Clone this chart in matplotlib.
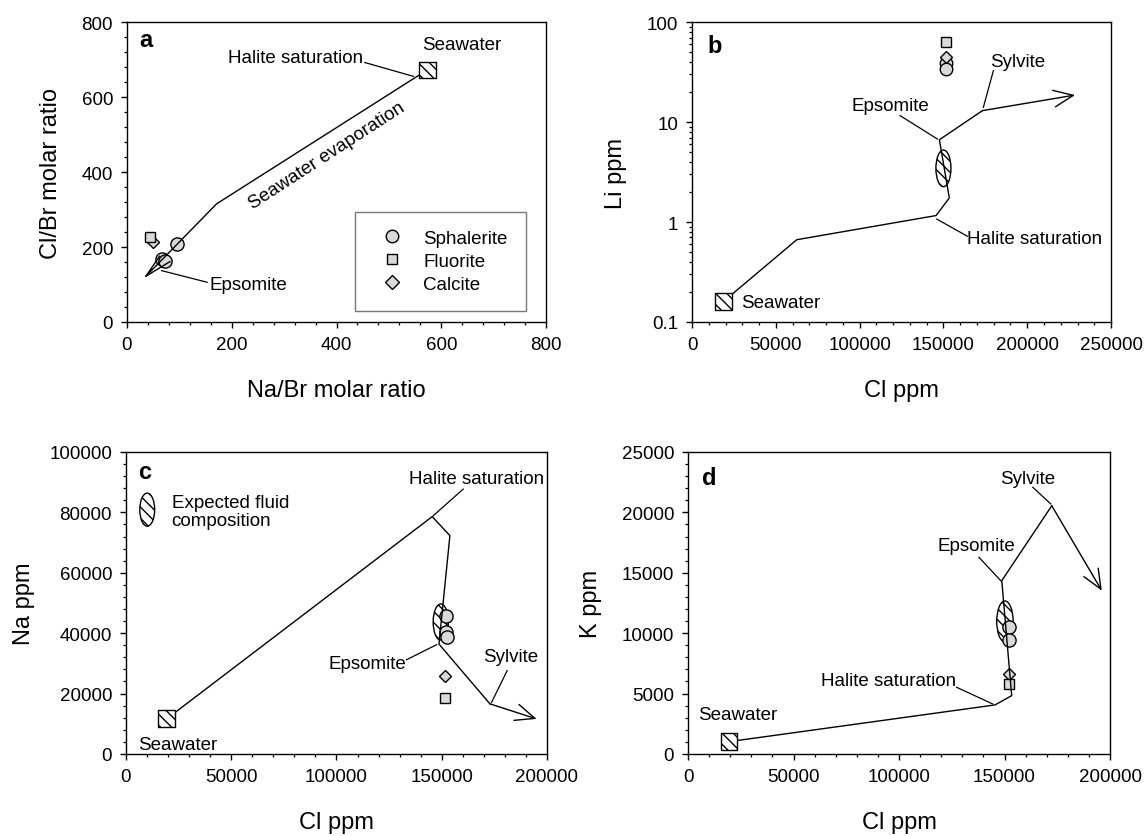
import matplotlib
matplotlib.use("Agg")
import matplotlib.pyplot as plt
from matplotlib.path import Path
from matplotlib.transforms import Affine2D
from matplotlib.ticker import MultipleLocator, FixedLocator, FixedFormatter, LogLocator, NullFormatter
from matplotlib.lines import Line2D

plt.rcParams['font.family'] = ['Liberation Sans', 'DejaVu Sans']
plt.rcParams['hatch.linewidth'] = 1.0
plt.rcParams['hatch.color'] = 'black'

# ---------------- data ----------------
# panel a : Na/Br vs Cl/Br molar ratio
a_sph_x = [95, 67, 72]
a_sph_y = [208, 168, 163]
a_flu_x = [43]
a_flu_y = [228]
a_cal_x = [50]
a_cal_y = [214]
a_sea_x = [573]
a_sea_y = [672]
a_path_x = [573, 171, 36, 62]
a_path_y = [672, 315, 122, 175]
a_wedge_x = [36, 82]
a_wedge_y = [122, 161]

# panel b : Cl ppm vs Li ppm (log)
b_sph_x = [151400, 151400]
b_sph_y = [38.5, 34]
b_flu_x = [151400]
b_flu_y = [62.7]
b_cal_x = [151400]
b_cal_y = [44.5]
b_sea_x = [18700]
b_sea_y = [0.16]
b_path_x = [18700, 62500, 145600, 153500, 147600, 173300]
b_path_y = [0.16, 0.665, 1.16, 1.74, 6.65, 13.0]
b_arrow_end = (228500, 18.6)
b_ell_x = [150000]
b_ell_y = [3.44]

# panel c : Cl ppm vs Na ppm
c_sph_x = [152000, 152000, 152500]
c_sph_y = [45800, 40300, 38600]
c_flu_x = [151500]
c_flu_y = [18400]
c_cal_x = [151500]
c_cal_y = [25900]
c_sea_x = [19300]
c_sea_y = [11600]
c_path_x = [19300, 145500, 153900, 148700, 172900]
c_path_y = [11600, 78600, 72300, 36400, 16600]
c_arrow_end = (195100, 11600)
c_ell_x = [149550]
c_ell_y = [43700]
c_leg_ell_x = [10100]
c_leg_ell_y = [80900]

# panel d : Cl ppm vs K ppm
d_sph_x = [152300, 152300]
d_sph_y = [10490, 9460]
d_flu_x = [152300]
d_flu_y = [5800]
d_cal_x = [152300]
d_cal_y = [6620]
d_sea_x = [19430]
d_sea_y = [1020]
d_path_x = [19430, 145500, 153400, 148700, 172400]
d_path_y = [1020, 4060, 4830, 14350, 20550]
d_arrow_end = (196100, 13520)
d_ell_x = [150200]
d_ell_y = [10970]

# ---------------- style ----------------
GRAY = '#d9d9d9'
FS = 13.5
LW = 1.0
HATCH = '\\\\\\'

fig = plt.figure(figsize=(11.44, 8.37), dpi=100)
ax_a = fig.add_axes([0.1110, 0.6141, 0.3663, 0.3584])
ax_b = fig.add_axes([0.6049, 0.6141, 0.3663, 0.3584])
ax_c = fig.add_axes([0.1101, 0.0980, 0.3680, 0.3608])
ax_d = fig.add_axes([0.6014, 0.0980, 0.3689, 0.3608])


def ell_marker(ratio):
    return Path.unit_circle().transformed(Affine2D().scale(ratio, 1.0))


def style(ax):
    for s in ax.spines.values():
        s.set_linewidth(1.0)
        s.set_color('black')
    ax.tick_params(which='major', direction='out', length=4, width=1.0,
                   labelsize=FS, pad=6, top=False, right=False)
    ax.tick_params(which='minor', direction='out', length=2.2, width=0.9,
                   top=False, right=False)


def samples(ax, sx, sy, fx, fy, cx, cy, sph_ms=9.5):
    ax.plot(sx, sy, 'o', ms=sph_ms, mfc=GRAY, mec='black', mew=1.0, ls='none', zorder=2)
    ax.plot(cx, cy, 'D', ms=6.6, mfc=GRAY, mec='black', mew=1.0, ls='none', zorder=2)
    ax.plot(fx, fy, 's', ms=7.2, mfc=GRAY, mec='black', mew=1.0, ls='none', zorder=2)


def seawater(ax, x, y):
    ax.scatter(x, y, marker='s', s=12.2 ** 2, facecolor='white', edgecolor='black',
               linewidths=1.0, hatch=HATCH, zorder=4)


def ellipse(ax, x, y, h_pt, ratio):
    ax.scatter(x, y, marker=ell_marker(ratio), s=h_pt ** 2, facecolor='white',
               edgecolor='black', linewidths=1.0, hatch=HATCH, zorder=1)


def arrow(ax, start, end):
    ax.annotate('', xy=end, xytext=start,
                arrowprops=dict(arrowstyle='->,head_length=0.7,head_width=0.3',
                                lw=LW, color='black', shrinkA=0, shrinkB=0,
                                mutation_scale=20), zorder=3)


def label(ax, text, x, y, ha='left', va='center', **kw):
    ax.text(x, y, text, ha=ha, va=va, fontsize=FS, **kw)


def leader(ax, x0, y0, x1, y1):
    ax.plot([x0, x1], [y0, y1], color='black', lw=0.9, zorder=3)


# ---------------- panel a ----------------
ax = ax_a
style(ax)
ax.set_xlim(0, 800)
ax.set_ylim(0, 800)
ax.xaxis.set_major_locator(MultipleLocator(200))
ax.xaxis.set_minor_locator(MultipleLocator(40))
ax.yaxis.set_major_locator(MultipleLocator(200))
ax.yaxis.set_minor_locator(MultipleLocator(40))
samples(ax, a_sph_x, a_sph_y, a_flu_x, a_flu_y, a_cal_x, a_cal_y)
ax.plot(a_path_x, a_path_y, color='black', lw=LW, zorder=3)
ax.plot(a_wedge_x, a_wedge_y, color='black', lw=LW, zorder=3)
seawater(ax, a_sea_x, a_sea_y)
ax.text(0.045, 0.943, 'a', transform=ax.transAxes, fontsize=17, fontweight='bold',
        ha='center', va='center')
label(ax, 'Seawater', 564, 739)
label(ax, 'Halite saturation', 451, 706, ha='right')
leader(ax, 454, 692, 547, 655)
label(ax, 'Seawater evaporation', 381, 446, ha='center', rotation=33, rotation_mode='anchor')
label(ax, 'Epsomite', 157, 100)
leader(ax, 66, 137, 153, 106)
ax.set_xlabel('Na/Br molar ratio', fontsize=17, labelpad=19)
ax.set_ylabel('Cl/Br molar ratio', fontsize=17, labelpad=14)
handles = [
    Line2D([], [], marker='o', ms=9, mfc=GRAY, mec='black', ls='none', label='Sphalerite'),
    Line2D([], [], marker='s', ms=7.5, mfc=GRAY, mec='black', ls='none', label='Fluorite'),
    Line2D([], [], marker='D', ms=6.8, mfc=GRAY, mec='black', ls='none', label='Calcite'),
]
leg = ax.legend(handles=handles, loc='lower left', bbox_to_anchor=(0.544, 0.038),
                borderaxespad=0, fontsize=FS, frameon=True, fancybox=False,
                borderpad=0.95, handlelength=2.0, handletextpad=0.7, labelspacing=0.32)
leg.get_frame().set_edgecolor('#555555')
leg.get_frame().set_linewidth(1.0)

# ---------------- panel b ----------------
ax = ax_b
style(ax)
ax.set_xlim(0, 250000)
ax.set_yscale('log')
ax.set_ylim(0.1, 100)
ax.xaxis.set_major_locator(MultipleLocator(50000))
ax.xaxis.set_minor_locator(MultipleLocator(10000))
ax.yaxis.set_major_locator(FixedLocator([0.1, 1, 10, 100]))
ax.yaxis.set_major_formatter(FixedFormatter(['0.1', '1', '10', '100']))
ax.yaxis.set_minor_locator(LogLocator(base=10, subs=range(2, 10)))
ax.yaxis.set_minor_formatter(NullFormatter())
ellipse(ax, b_ell_x, b_ell_y, 26.4, 0.41)
samples(ax, b_sph_x, b_sph_y, b_flu_x, b_flu_y, b_cal_x, b_cal_y, sph_ms=9.0)
ax.plot(b_path_x, b_path_y, color='black', lw=LW, zorder=3)
arrow(ax, (b_path_x[-1], b_path_y[-1]), b_arrow_end)
seawater(ax, b_sea_x, b_sea_y)
ax.text(0.055, 0.921, 'b', transform=ax.transAxes, fontsize=17, fontweight='bold',
        ha='center', va='center')
label(ax, 'Seawater', 29200, 0.155)
label(ax, 'Sylvite', 177800, 40.1)
leader(ax, 179800, 32.6, 173800, 14.0)
label(ax, 'Epsomite', 94900, 14.6)
leader(ax, 124100, 11.6, 146400, 6.76)
label(ax, 'Halite saturation', 164100, 0.687)
leader(ax, 146000, 1.07, 164300, 0.72)
ax.set_xlabel('Cl ppm', fontsize=17, labelpad=19)
ax.set_ylabel('Li ppm', fontsize=17, labelpad=14)

# ---------------- panel c ----------------
ax = ax_c
style(ax)
ax.set_xlim(0, 200000)
ax.set_ylim(0, 100000)
ax.xaxis.set_major_locator(MultipleLocator(50000))
ax.xaxis.set_minor_locator(MultipleLocator(10000))
ax.yaxis.set_major_locator(MultipleLocator(20000))
ax.yaxis.set_minor_locator(MultipleLocator(4000))
ellipse(ax, c_ell_x, c_ell_y, 26.0, 0.42)
ellipse(ax, c_leg_ell_x, c_leg_ell_y, 23.8, 0.45)
samples(ax, c_sph_x, c_sph_y, c_flu_x, c_flu_y, c_cal_x, c_cal_y)
ax.plot(c_path_x, c_path_y, color='black', lw=LW, zorder=3)
arrow(ax, (c_path_x[-1], c_path_y[-1]), c_arrow_end)
seawater(ax, c_sea_x, c_sea_y)
ax.text(0.045, 0.934, 'c', transform=ax.transAxes, fontsize=17, fontweight='bold',
        ha='center', va='center')
label(ax, 'Seawater', 5700, 3300)
label(ax, 'Halite saturation', 134400, 91300)
leader(ax, 160200, 87700, 146000, 78900)
label(ax, 'Expected fluid\ncomposition', 21700, 80300, linespacing=1.1)
label(ax, 'Epsomite', 133000, 29800, ha='right')
leader(ax, 133300, 31200, 147600, 36200)
label(ax, 'Sylvite', 169600, 32200)
leader(ax, 181100, 27600, 173700, 17100)
ax.set_xlabel('Cl ppm', fontsize=17, labelpad=19)
ax.set_ylabel('Na ppm', fontsize=17, labelpad=10)

# ---------------- panel d ----------------
ax = ax_d
style(ax)
ax.set_xlim(0, 200000)
ax.set_ylim(0, 25000)
ax.xaxis.set_major_locator(MultipleLocator(50000))
ax.xaxis.set_minor_locator(MultipleLocator(10000))
ax.yaxis.set_major_locator(MultipleLocator(5000))
ax.yaxis.set_minor_locator(MultipleLocator(1000))
ellipse(ax, d_ell_x, d_ell_y, 29.5, 0.40)
samples(ax, d_sph_x, d_sph_y, d_flu_x, d_flu_y, d_cal_x, d_cal_y)
ax.plot(d_path_x, d_path_y, color='black', lw=LW, zorder=3)
arrow(ax, (d_path_x[-1], d_path_y[-1]), d_arrow_end)
seawater(ax, d_sea_x, d_sea_y)
ax.text(0.050, 0.916, 'd', transform=ax.transAxes, fontsize=17, fontweight='bold',
        ha='center', va='center')
label(ax, 'Seawater', 4740, 3230)
label(ax, 'Sylvite', 147900, 22820)
leader(ax, 163400, 22080, 171900, 20700)
label(ax, 'Epsomite', 118300, 17240)
leader(ax, 137900, 16280, 148200, 14350)
label(ax, 'Halite saturation', 127000, 6070, ha='right')
leader(ax, 127300, 5520, 144400, 4140)
ax.set_xlabel('Cl ppm', fontsize=17, labelpad=19)
ax.set_ylabel('K ppm', fontsize=17, labelpad=14)

fig.savefig('out.png', dpi=100)
